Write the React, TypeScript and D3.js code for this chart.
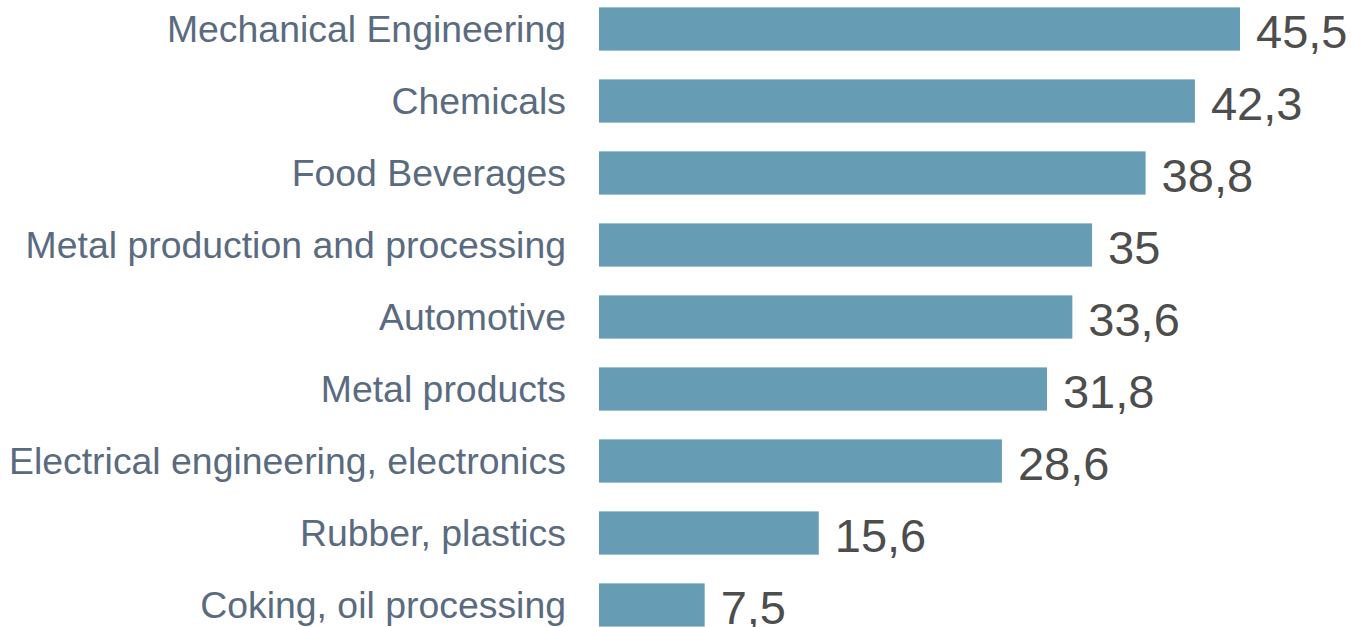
import React from "react";
import * as d3 from "d3";

const categories = [
  "Mechanical Engineering",
  "Chemicals",
  "Food Beverages",
  "Metal production and processing",
  "Automotive",
  "Metal products",
  "Electrical engineering, electronics",
  "Rubber, plastics",
  "Coking, oil processing",
];
const values = [45.5, 42.3, 38.8, 35, 33.6, 31.8, 28.6, 15.6, 7.5];
const valueLabels = ["45,5", "42,3", "38,8", "35", "33,6", "31,8", "28,6", "15,6", "7,5"];

const W = 1354;
const H = 627;

export default function App() {
  const x = d3.scaleLinear().domain([0, 45.5]).range([599, 1240]);
  const y = d3
    .scaleBand<string>()
    .domain(categories)
    .range([-7, 641])
    .paddingInner(0.4)
    .paddingOuter(0.2);
  const bw = y.bandwidth();
  return (
    <svg
      width={W}
      height={H}
      style={{ position: "absolute", left: 0, top: 0, background: "#fff" }}
      fontFamily="'Liberation Sans', Arial, sans-serif"
    >
      {categories.map((c, i) => {
        const yc = (y(c) as number) + bw / 2;
        return (
          <g key={c}>
            <text x={566} y={yc + 13} textAnchor="end" fontSize={37.4} fill="#5a6b80">
              {c}
            </text>
            <rect
              x={x(0)}
              y={y(c) as number}
              width={x(values[i]) - x(0)}
              height={bw}
              fill="#669cb4"
            />
            <text x={x(values[i]) + 16} y={yc + 19} fontSize={47} fill="#4d4d4d">
              {valueLabels[i]}
            </text>
          </g>
        );
      })}
    </svg>
  );
}
